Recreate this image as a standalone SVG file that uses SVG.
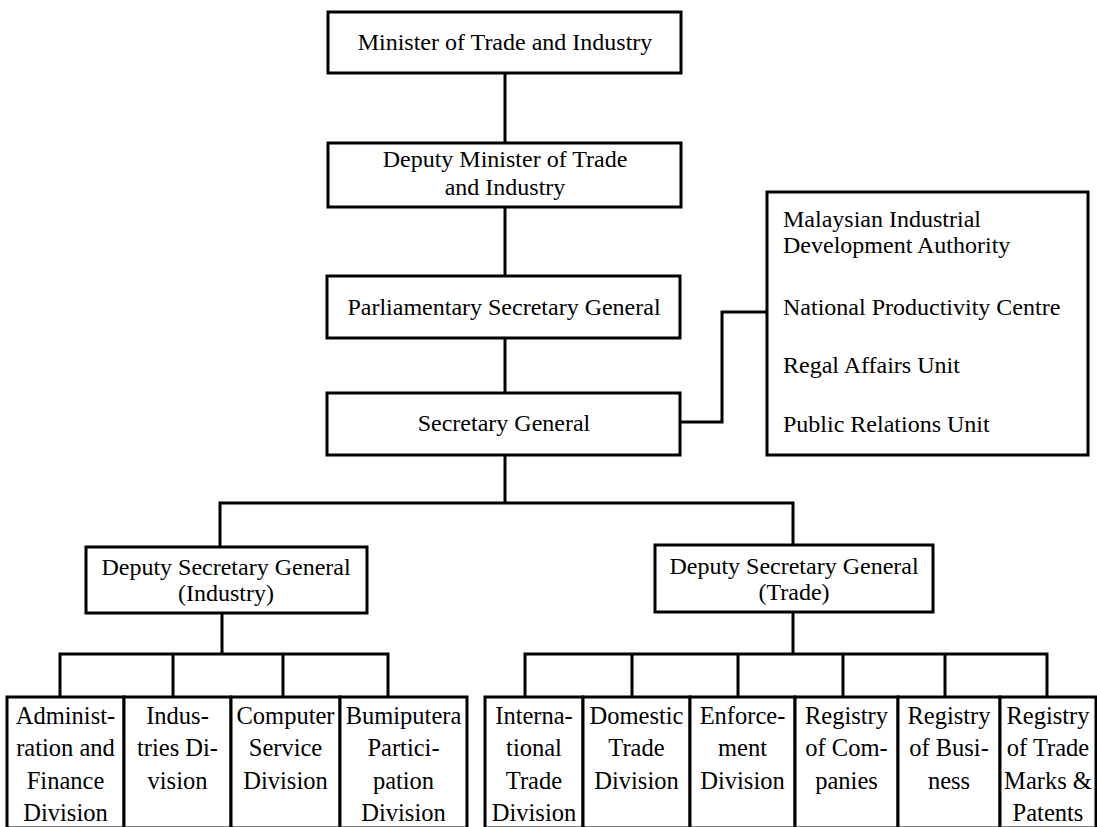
<svg xmlns="http://www.w3.org/2000/svg" width="1097" height="827" viewBox="0 0 1097 827">
<style>
  .box { fill: #ffffff; stroke: #000000; stroke-width: 3; }
  .ln { fill: none; stroke: #000000; stroke-width: 3; }
  text { font-family: "Liberation Serif", "Times New Roman", serif; fill: #000000; }
  .t { font-size: 24px; text-anchor: middle; }
  .l { font-size: 24px; text-anchor: start; }
  .b { font-size: 24.5px; text-anchor: middle; }
</style>
<rect x="0" y="0" width="1097" height="827" fill="#ffffff"/>
<g id="connectors">
  <path class="ln" d="M505 73 V143"/>
  <path class="ln" d="M505 207 V276"/>
  <path class="ln" d="M505 338 V393"/>
  <path class="ln" d="M505 455 V503"/>
  <path class="ln" d="M680 422 H722 V312 H767"/>
  <path class="ln" d="M220 547 V503 H793 V545"/>
  <path class="ln" d="M222 613 V654"/>
  <path class="ln" d="M60 697 V654 H388 V697 M173 654 V697 M283 654 V697"/>
  <path class="ln" d="M793 612 V654"/>
  <path class="ln" d="M525 697 V654 H1047 V697 M632 654 V697 M738 654 V697 M843 654 V697 M945 654 V697"/>
</g>
<g id="minister">
  <rect class="box" x="328" y="12" width="353" height="61"/>
  <text class="t" x="505" y="50">Minister of Trade and Industry</text>
</g>
<g id="deputy-minister">
  <rect class="box" x="328" y="143" width="353" height="64"/>
  <text class="t" x="505" y="167">Deputy Minister of Trade</text>
  <text class="t" x="505" y="195">and Industry</text>
</g>
<g id="parliamentary-secretary">
  <rect class="box" x="327" y="276" width="353" height="62"/>
  <text class="t" x="504" y="315">Parliamentary Secretary General</text>
</g>
<g id="secretary-general">
  <rect class="box" x="327" y="393" width="353" height="62"/>
  <text class="t" x="504" y="431">Secretary General</text>
</g>
<g id="agencies">
  <rect class="box" x="767" y="192" width="321" height="263"/>
  <text class="l" x="783" y="227">Malaysian Industrial</text>
  <text class="l" x="783" y="253">Development Authority</text>
  <text class="l" x="783" y="315">National Productivity Centre</text>
  <text class="l" x="783" y="373">Regal Affairs Unit</text>
  <text class="l" x="783" y="432">Public Relations Unit</text>
</g>
<g id="dsg-industry">
  <rect class="box" x="86" y="547" width="281" height="66"/>
  <text class="t" x="226" y="575">Deputy Secretary General</text>
  <text class="t" x="226" y="601">(Industry)</text>
</g>
<g id="dsg-trade">
  <rect class="box" x="655" y="545" width="278" height="67"/>
  <text class="t" x="794" y="574">Deputy Secretary General</text>
  <text class="t" x="794" y="600">(Trade)</text>
</g>
<g id="admin-finance">
  <rect class="box" x="7" y="697" width="117" height="131"/>
  <text class="b" x="65.5" y="724">Administ-</text>
  <text class="b" x="65.5" y="756">ration and</text>
  <text class="b" x="65.5" y="789">Finance</text>
  <text class="b" x="65.5" y="821">Division</text>
</g>
<g id="industries">
  <rect class="box" x="124" y="697" width="107" height="131"/>
  <text class="b" x="177.5" y="724">Indus-</text>
  <text class="b" x="177.5" y="756">tries Di-</text>
  <text class="b" x="177.5" y="789">vision</text>
</g>
<g id="computer-service">
  <rect class="box" x="231" y="697" width="109" height="131"/>
  <text class="b" x="285.5" y="724">Computer</text>
  <text class="b" x="285.5" y="756">Service</text>
  <text class="b" x="285.5" y="789">Division</text>
</g>
<g id="bumiputera">
  <rect class="box" x="340" y="697" width="127" height="131"/>
  <text class="b" x="403.5" y="724">Bumiputera</text>
  <text class="b" x="403.5" y="756">Partici-</text>
  <text class="b" x="403.5" y="789">pation</text>
  <text class="b" x="403.5" y="821">Division</text>
</g>
<g id="international-trade">
  <rect class="box" x="485" y="697" width="98" height="131"/>
  <text class="b" x="534" y="724">Interna-</text>
  <text class="b" x="534" y="756">tional</text>
  <text class="b" x="534" y="789">Trade</text>
  <text class="b" x="534" y="821">Division</text>
</g>
<g id="domestic-trade">
  <rect class="box" x="583" y="697" width="107" height="131"/>
  <text class="b" x="636.5" y="724">Domestic</text>
  <text class="b" x="636.5" y="756">Trade</text>
  <text class="b" x="636.5" y="789">Division</text>
</g>
<g id="enforcement">
  <rect class="box" x="690" y="697" width="105" height="131"/>
  <text class="b" x="742.5" y="724">Enforce-</text>
  <text class="b" x="742.5" y="756">ment</text>
  <text class="b" x="742.5" y="789">Division</text>
</g>
<g id="registry-companies">
  <rect class="box" x="795" y="697" width="103" height="131"/>
  <text class="b" x="846.5" y="724">Registry</text>
  <text class="b" x="846.5" y="756">of Com-</text>
  <text class="b" x="846.5" y="789">panies</text>
</g>
<g id="registry-business">
  <rect class="box" x="898" y="697" width="102" height="131"/>
  <text class="b" x="949" y="724">Registry</text>
  <text class="b" x="949" y="756">of Busi-</text>
  <text class="b" x="949" y="789">ness</text>
</g>
<g id="registry-trade-marks">
  <rect class="box" x="1000" y="697" width="96" height="131"/>
  <text class="b" x="1048" y="724">Registry</text>
  <text class="b" x="1048" y="756">of Trade</text>
  <text class="b" x="1048" y="789">Marks &amp;</text>
  <text class="b" x="1048" y="821">Patents</text>
</g>
</svg>
